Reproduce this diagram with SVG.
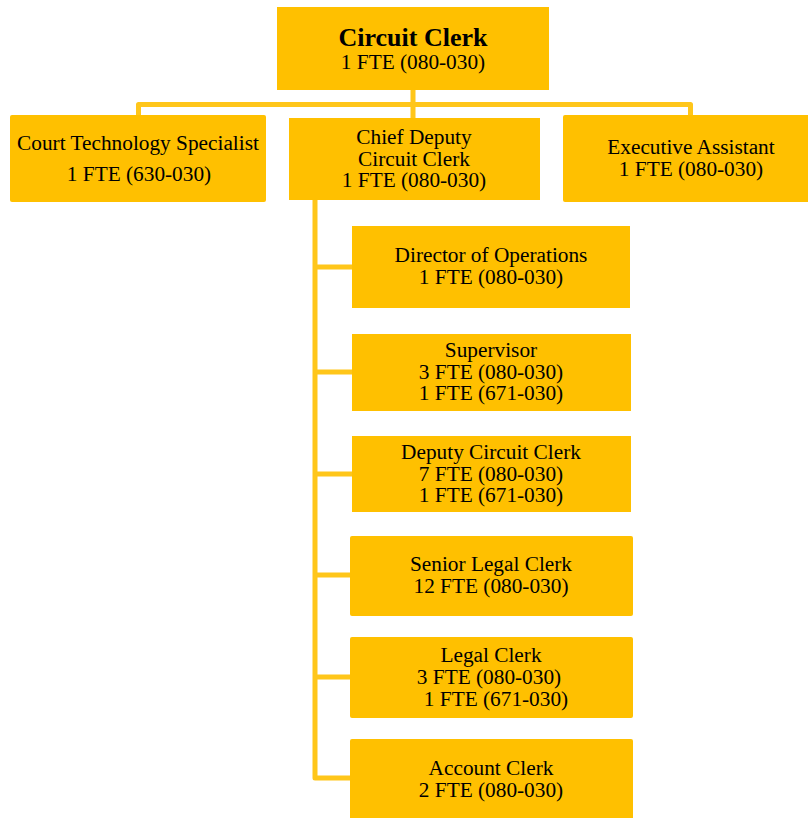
<svg xmlns="http://www.w3.org/2000/svg" width="808" height="818" viewBox="0 0 808 818">
<style>
.box{fill:#FFC000;}
.t{font-family:"Liberation Serif","Times New Roman",serif;font-size:21.3px;fill:#000;text-anchor:middle;}
.b{font-weight:bold;font-size:26px;}
.c{fill:none;stroke:#FFC61A;stroke-width:5;stroke-linejoin:round;}
</style>
<rect width="808" height="818" fill="#fff"/>
<g id="connectors">
<path class="c" d="M413,90 V118 M138.5,115 V104.5 H690.5 V115"/>
<path class="c" d="M315,200 V778 H350 M315,267 H352 M315,372 H352 M315,474 H352 M315,575 H350 M315,677 H350"/>
</g>
<g id="circuit-clerk">
<rect class="box" x="277" y="7" width="272" height="83"/>
<text class="t b" x="413" y="46">Circuit Clerk</text>
<text class="t" x="413" y="69">1 FTE (080-030)</text>
</g>
<g id="court-tech">
<rect class="box" x="10" y="115" width="256" height="87" rx="2"/>
<text class="t" x="138" y="150">Court Technology Specialist</text>
<text class="t" x="139" y="181">1 FTE (630-030)</text>
</g>
<g id="chief-deputy">
<rect class="box" x="289" y="118" width="251" height="82"/>
<text class="t" x="414" y="144">Chief Deputy</text>
<text class="t" x="414" y="166">Circuit Clerk</text>
<text class="t" x="414" y="187">1 FTE (080-030)</text>
</g>
<g id="exec-assistant">
<rect class="box" x="563" y="115" width="250" height="87" rx="2"/>
<text class="t" x="691" y="154">Executive Assistant</text>
<text class="t" x="691" y="176">1 FTE (080-030)</text>
</g>
<g id="director">
<rect class="box" x="352" y="226" width="278" height="82"/>
<text class="t" x="491" y="262">Director of Operations</text>
<text class="t" x="491" y="284">1 FTE (080-030)</text>
</g>
<g id="supervisor">
<rect class="box" x="352" y="334" width="279" height="77"/>
<text class="t" x="491" y="357">Supervisor</text>
<text class="t" x="491" y="379">3 FTE (080-030)</text>
<text class="t" x="491" y="400">1 FTE (671-030)</text>
</g>
<g id="deputy-clerk">
<rect class="box" x="352" y="436" width="279" height="76"/>
<text class="t" x="491" y="459">Deputy Circuit Clerk</text>
<text class="t" x="491" y="481">7 FTE (080-030)</text>
<text class="t" x="491" y="502">1 FTE (671-030)</text>
</g>
<g id="senior-legal-clerk">
<rect class="box" x="350" y="536" width="283" height="80" rx="2"/>
<text class="t" x="491" y="571">Senior Legal Clerk</text>
<text class="t" x="491" y="593">12 FTE (080-030)</text>
</g>
<g id="legal-clerk">
<rect class="box" x="350" y="637" width="283" height="81" rx="2"/>
<text class="t" x="491" y="662">Legal Clerk</text>
<text class="t" x="489" y="684">3 FTE (080-030)</text>
<text class="t" x="496" y="706">1 FTE (671-030)</text>
</g>
<g id="account-clerk">
<rect class="box" x="350" y="739" width="283" height="84" rx="2"/>
<text class="t" x="491" y="775">Account Clerk</text>
<text class="t" x="491" y="797">2 FTE (080-030)</text>
</g>
</svg>
